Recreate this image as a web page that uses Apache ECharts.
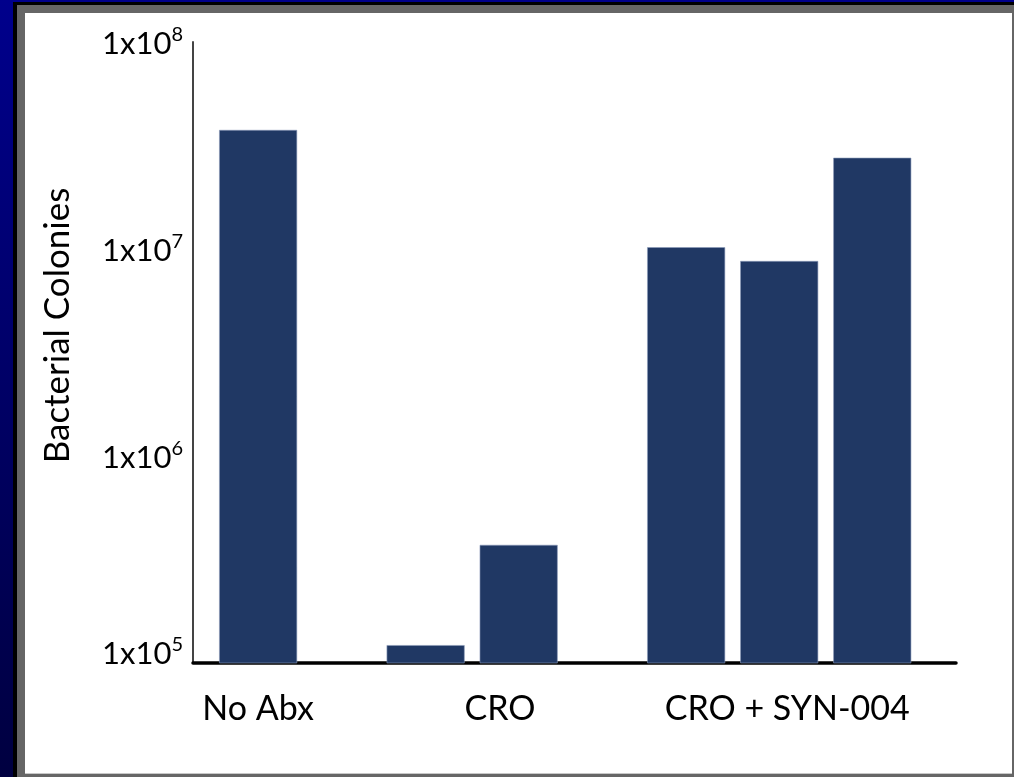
<!DOCTYPE html>
<html>
<head>
<meta charset="utf-8">
<script src="https://cdn.jsdelivr.net/npm/echarts@6/dist/echarts.min.js"></script>
<style>
  html, body { margin: 0; padding: 0; }
  body {
    width: 1014px;
    height: 777px;
    position: relative;
    overflow: hidden;
    background: linear-gradient(#00008c, #000040);
  }
  .box { position: absolute; }
  .edge-dark { left: 13px; top: 2px; width: 1001px; height: 775px; background: #000; }
  .edge-grey { left: 17px; top: 5px; width: 997px; height: 772px; background: #666; }
  .panel { left: 25px; top: 13px; width: 987px; height: 760px; background: #fff; border-bottom: 1px solid #c8c8c8; }
  #main { left: 0; top: 0; width: 1014px; height: 777px; }
</style>
</head>
<body>
<div class="box edge-dark"></div>
<div class="box edge-grey"></div>
<div class="box panel"></div>
<div id="main" class="box"></div>
<script>
// group names on the x axis
const groups = ['No Abx', 'CRO', 'CRO + SYN-004']
// bacterial colonies, one value per bar
const noAbx = [3.76e7]
const cro = [1.22e5, 3.72e5]
const croSyn = [1.02e7, 8.75e6, 2.76e7]
// y axis decades
const yTicks = [1e5, 1e6, 1e7, 1e8]

const font = 'Lato, "Liberation Sans", sans-serif'

// spread the bars over narrow slots so the gaps between groups are wider
// than the gaps inside a group
const lead = 3
const inGroup = 5
const betweenGroups = 9
const tail = 4
const labelAt = [3, 16, 31]

const slots = []
const values = []
const groupData = [noAbx, cro, croSyn]
function pad(n) {
  for (let i = 0; i < n; i++) {
    slots.push('')
    values.push(null)
  }
}
pad(lead)
groupData.forEach((vals, g) => {
  vals.forEach((v, i) => {
    slots.push('')
    values.push(v)
    if (i < vals.length - 1) pad(inGroup - 1)
  })
  if (g < groupData.length - 1) pad(betweenGroups - 1)
})
pad(tail)
labelAt.forEach((s, g) => { slots[s] = groups[g] })

const chart = echarts.init(document.getElementById('main'))
const option = {
  backgroundColor: 'transparent',
  animation: false,
  grid: {
    left: 193,
    right: 58,
    top: 42,
    bottom: 114
  },
  xAxis: {
    type: 'category',
    data: slots,
    axisLine: {
      onZero: false,
      lineStyle: { color: '#000', width: 3.5 }
    },
    axisTick: { show: false },
    axisLabel: {
      interval: 0,
      margin: 29,
      color: '#000',
      fontFamily: font,
      fontSize: 34,
      formatter: function(v) {
        if (!v) return ''
        if (v === groups[2]) return '{r|' + v + '}'
        return v
      },
      rich: {
        r: { fontFamily: font, fontSize: 34, color: '#000', padding: [0, 0, 0, 16] }
      }
    }
  },
  yAxis: {
    type: 'log',
    logBase: 10,
    min: yTicks[0],
    max: yTicks[yTicks.length - 1],
    name: 'Bacterial Colonies',
    nameLocation: 'middle',
    nameGap: 118,
    nameTextStyle: {
      color: '#000',
      fontFamily: font,
      fontSize: 35,
      padding: [0, 0, 0, 54]
    },
    axisLine: {
      show: true,
      lineStyle: { color: '#444', width: 2 }
    },
    axisTick: { show: false },
    splitLine: { show: false },
    axisLabel: {
      margin: 10,
      formatter: function(v) {
        const e = Math.round(Math.log10(v))
        // lowest label sits a little above its tick
        if (v === yTicks[0]) return '{b|1x10}{s|' + e + '}\n{gap| }'
        return '{b|1x10}{s|' + e + '}'
      },
      rich: {
        b: { fontFamily: font, fontSize: 31, color: '#000', lineHeight: 34, verticalAlign: 'bottom' },
        s: { fontFamily: font, fontSize: 20, color: '#000', lineHeight: 20, verticalAlign: 'top' },
        gap: { fontSize: 10, lineHeight: 22 }
      }
    }
  },
  series: [
    {
      type: 'bar',
      data: values,
      barWidth: 78,
      itemStyle: {
        color: '#203864',
        borderColor: '#8c9bb8',
        borderWidth: 0.6
      }
    }
  ]
}
chart.setOption(option)
</script>
</body>
</html>
